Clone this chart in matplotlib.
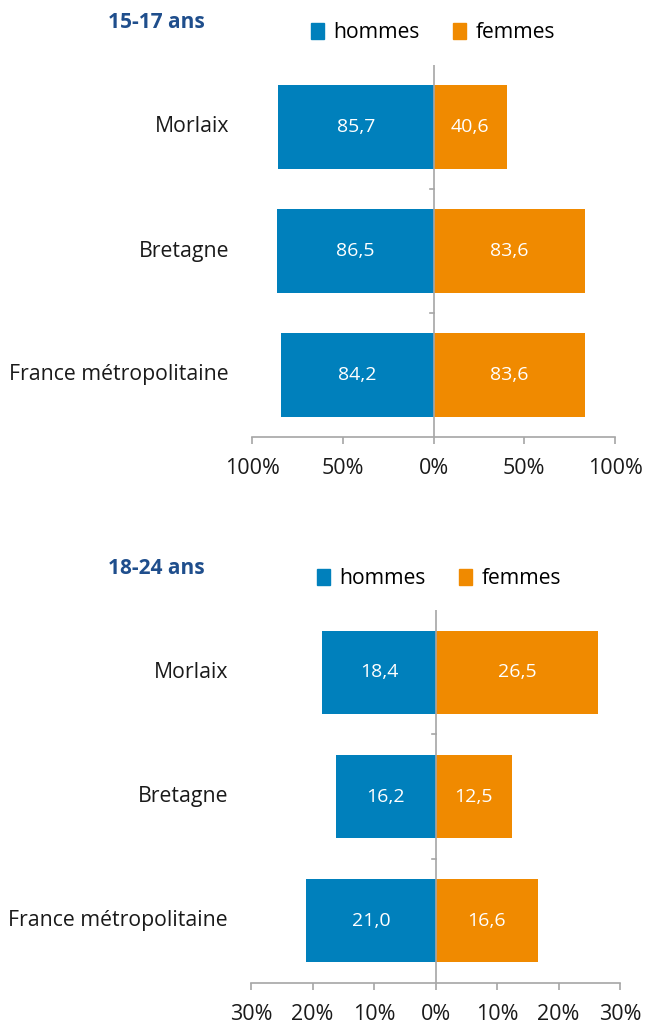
import matplotlib.pyplot as plt
from matplotlib.patches import Patch

plt.rcParams['font.family'] = ['Open Sans', 'DejaVu Sans']

# data
territoires = ['Morlaix', 'Bretagne', 'France métropolitaine']
hommes_15_17 = [85.7, 86.5, 84.2]
femmes_15_17 = [40.6, 83.6, 83.6]
hommes_18_24 = [18.4, 16.2, 21.0]
femmes_18_24 = [26.5, 12.5, 16.6]

blue = '#0080bc'
orange = '#f08a00'
grey = '#a6a6a6'
title_col = '#1f4e8c'

fig = plt.figure(figsize=(6.45, 10.25), dpi=100)


def draw_panel(rect, hommes, femmes, lim, ticks, title, title_y, legend_x, legend_y):
    ax = fig.add_axes(rect)
    ypos = list(range(len(territoires)))
    ax.barh(ypos, [-h for h in hommes], height=0.67, color=blue)
    ax.barh(ypos, femmes, height=0.67, color=orange)
    for y, h, f in zip(ypos, hommes, femmes):
        ax.text(-h / 2, y, f'{h:.1f}'.replace('.', ','), ha='center', va='center',
                color='white', fontsize=14)
        ax.text(f / 2, y, f'{f:.1f}'.replace('.', ','), ha='center', va='center',
                color='white', fontsize=14)
        ax.annotate(territoires[y], xy=(0, y), xycoords=('axes fraction', 'data'),
                    xytext=(-16.5, 0), textcoords='offset points',
                    ha='right', va='center', fontsize=15.3, color='#1a1a1a')

    ax.set_xlim(-lim, lim)
    ax.set_ylim(2.5, -0.5)
    ax.set_xticks(ticks)
    ax.set_xticklabels([f'{abs(t)}%' for t in ticks], fontsize=15.5, color='#1a1a1a')
    ax.tick_params(axis='x', length=5, width=1.2, color=grey, pad=10)

    # vertical axis through 0
    for s in ['top', 'right', 'left']:
        ax.spines[s].set_visible(False)
    ax.spines['bottom'].set_color(grey)
    ax.spines['bottom'].set_linewidth(1.2)
    ax.axvline(0, color=grey, lw=1.2, zorder=3)
    ax.set_yticks([])
    for b in [0.5, 1.5]:
        ax.plot([-lim * 0.018, 0], [b, b], color=grey, lw=1.2, clip_on=False)

    fig.text(108 / 645, 1 - title_y / 1025, title, fontsize=15, fontweight='bold',
             color=title_col, ha='left', va='center')
    handles = [Patch(color=blue, label='hommes'), Patch(color=orange, label='femmes')]
    fig.legend(handles=handles, loc='center left',
               bbox_to_anchor=(legend_x / 645, 1 - legend_y / 1025), ncol=2,
               frameon=False, fontsize=15.2, handlelength=0.6, handleheight=0.75,
               handletextpad=0.45, columnspacing=1.6, borderaxespad=0, borderpad=0)
    return ax


draw_panel([252 / 645, 1 - 437 / 1025, 363 / 645, 372 / 1025],
           hommes_15_17, femmes_15_17, 100, [-100, -50, 0, 50, 100],
           '15-17 ans', 23, 311, 33)
draw_panel([251 / 645, 1 - 983 / 1025, 369 / 645, 373 / 1025],
           hommes_18_24, femmes_18_24, 30, [-30, -20, -10, 0, 10, 20, 30],
           '18-24 ans', 568, 317, 579)

fig.savefig('out.png', dpi=100)
